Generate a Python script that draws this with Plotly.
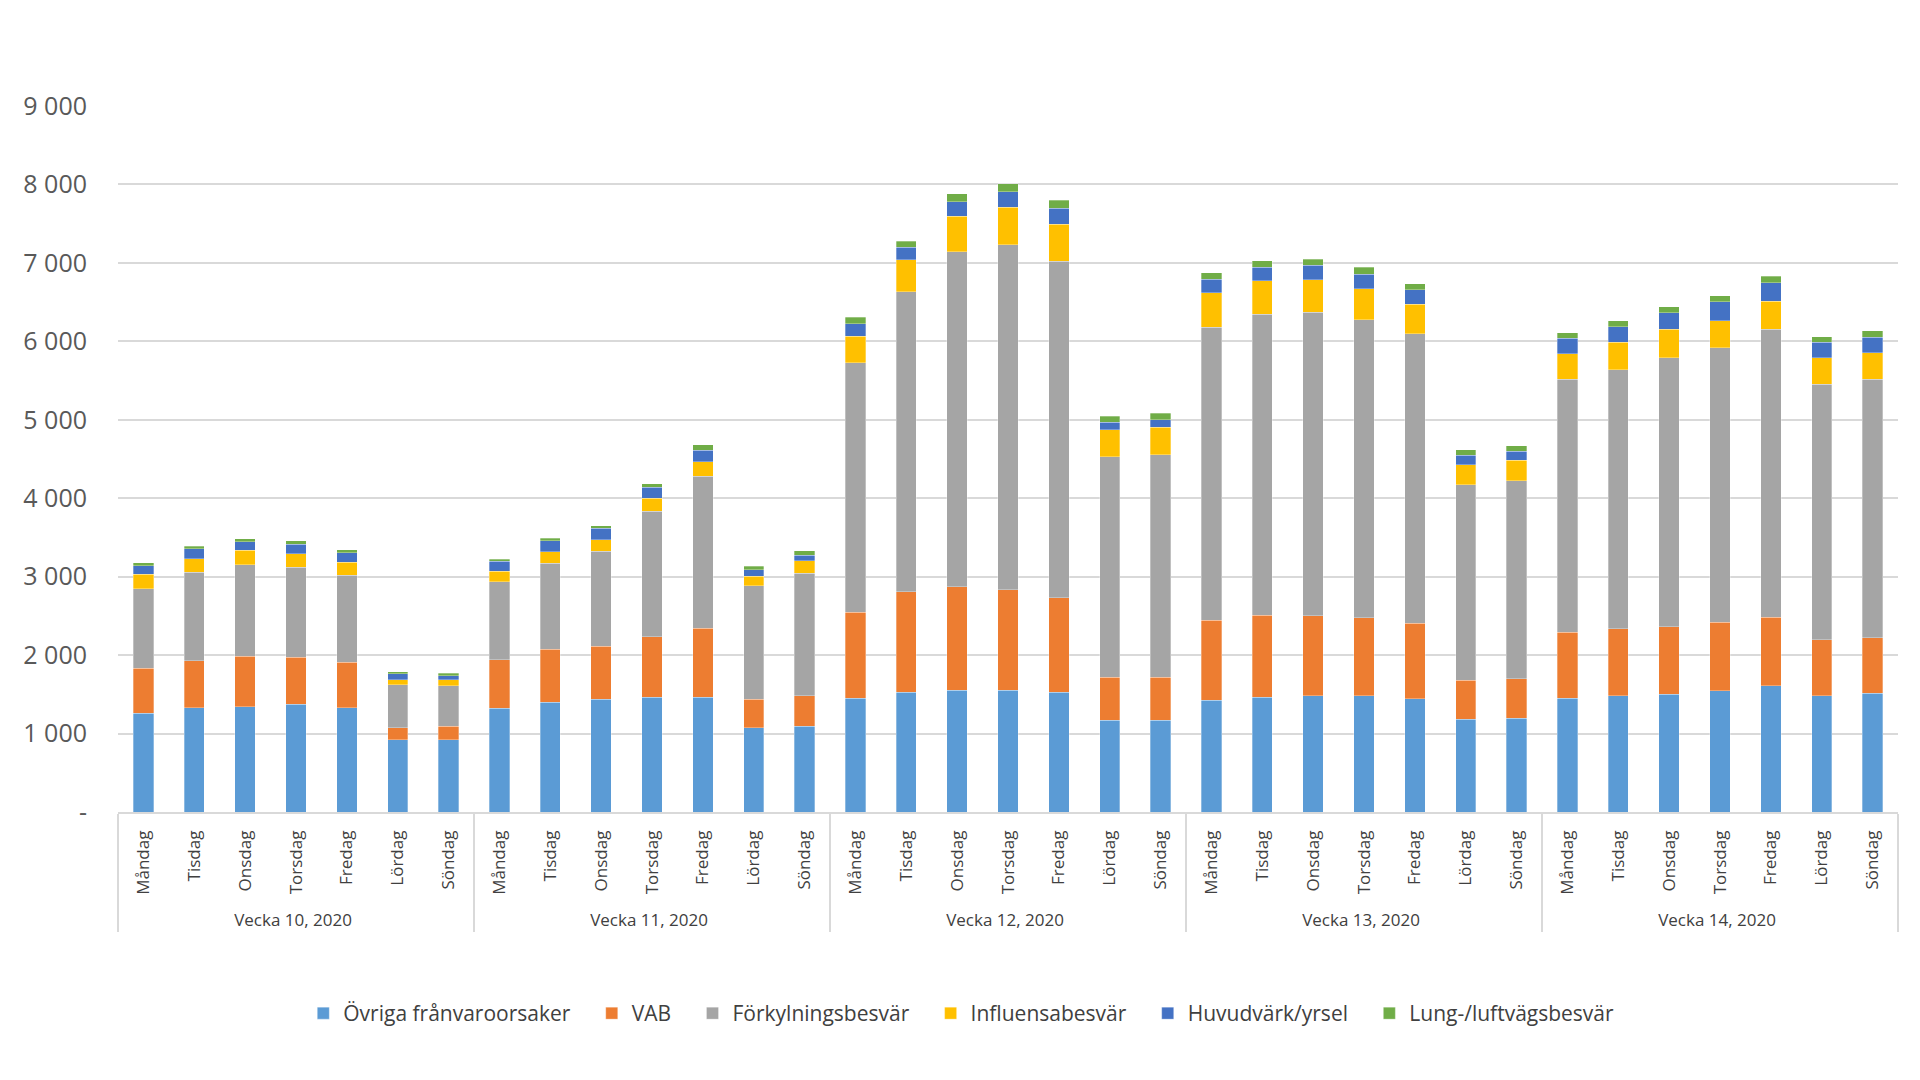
import plotly.graph_objects as go

weeks = ["Vecka 10, 2020", "Vecka 11, 2020", "Vecka 12, 2020", "Vecka 13, 2020", "Vecka 14, 2020"]
days = ["Måndag", "Tisdag", "Onsdag", "Torsdag", "Fredag", "Lördag", "Söndag"]

series_names = ["Övriga frånvaroorsaker", "VAB", "Förkylningsbesvär",
                "Influensabesvär", "Huvudvärk/yrsel", "Lung-/luftvägsbesvär"]
colors = ["#5B9BD5", "#ED7D31", "#A5A5A5", "#FFC000", "#4472C4", "#70AD47"]

ovriga = [1260, 1330, 1343, 1374, 1330, 922, 922,
          1324, 1399, 1436, 1460, 1460, 1071, 1095,
          1447, 1527, 1550, 1550, 1527, 1168, 1168,
          1424, 1460, 1480, 1480, 1444, 1182, 1192,
          1452, 1484, 1498, 1548, 1612, 1484, 1511]
vab = [570, 600, 643, 600, 576, 155, 173,
       619, 674, 674, 774, 885, 365, 384,
       1100, 1282, 1322, 1282, 1202, 553, 553,
       1020, 1050, 1020, 995, 960, 500, 505,
       840, 854, 863, 872, 872, 712, 708]
forkylning = [1015, 1125, 1164, 1145, 1114, 544, 514,
              990, 1095, 1213, 1603, 1937, 1448, 1566,
              3179, 3823, 4268, 4399, 4291, 2809, 2832,
              3738, 3833, 3869, 3798, 3692, 2490, 2525,
              3224, 3301, 3429, 3498, 3671, 3256, 3297]
influensa = [185, 175, 185, 173, 161, 68, 80,
             136, 149, 149, 161, 180, 123, 160,
             342, 405, 455, 478, 473, 342, 353,
             439, 430, 414, 399, 379, 257, 263,
             324, 352, 365, 342, 356, 338, 338]
huvudvark = [110, 125, 112, 124, 123, 75, 50,
             130, 142, 148, 142, 148, 81, 69,
             154, 160, 183, 200, 205, 97, 97,
             172, 171, 187, 182, 182, 116, 111,
             201, 196, 210, 242, 238, 201, 201]
lung = [37, 30, 37, 43, 38, 24, 31,
        25, 31, 31, 43, 74, 43, 55,
        86, 79, 102, 102, 103, 74, 80,
        81, 81, 75, 90, 75, 76, 71,
        69, 73, 73, 82, 80, 68, 82]

y_tickvals = [0, 1000, 2000, 3000, 4000, 5000, 6000, 7000, 8000, 9000]
y_ticktext = ["-", "1 000", "2 000", "3 000", "4 000", "5 000", "6 000", "7 000", "8 000", "9 000"]

# leading non-breaking spaces only add room below the rotated day labels
day_pad = "\u00a0\u00a0"
x_outer = [w for w in weeks for _ in days]
x_inner = [day_pad + d for _ in weeks for d in days]

pad = "\u00a0" * 3

fig = go.Figure()
for i, (name, color, vals) in enumerate(zip(series_names, colors,
                                            [ovriga, vab, forkylning, influensa, huvudvark, lung])):
    label = name + (pad if i < len(series_names) - 1 else "")
    fig.add_trace(go.Bar(
        x=[x_outer, x_inner], y=vals, name=label,
        hovertemplate=name + ": %{y}<extra></extra>",
        marker=dict(color=color, line=dict(color="rgba(255,255,255,0.6)", width=0.5)),
    ))

fig.update_layout(
    barmode="stack",
    bargap=0.6,
    width=1920, height=1080,
    paper_bgcolor="white", plot_bgcolor="white",
    margin=dict(l=110, r=30, t=98, b=276),
    font=dict(family="Open Sans", color="#404040"),
    legend=dict(orientation="h", xref="container", x=0.4965, xanchor="center",
                yref="container", y=0.069, yanchor="middle",
                font=dict(size=21, color="#404040"), traceorder="normal",
                itemwidth=30),
    showlegend=True,
)
fig.update_yaxes(
    range=[0, 9000], tickvals=y_tickvals, ticktext=y_ticktext,
    showgrid=True, gridcolor="#D9D9D9", gridwidth=1.5,
    zeroline=False, showline=False,
    tickfont=dict(size=25, color="#595959"), ticks="", ticklabelstandoff=30,
)
fig.update_xaxes(
    type="multicategory",
    showline=True, linecolor="#D9D9D9", linewidth=1.5,
    showdividers=True, dividercolor="#D9D9D9", dividerwidth=1.5,
    tickangle=-90, tickfont=dict(size=17, color="#404040"),
    ticks="", ticklabelstandoff=10,
)

fig.write_html("out.html")
